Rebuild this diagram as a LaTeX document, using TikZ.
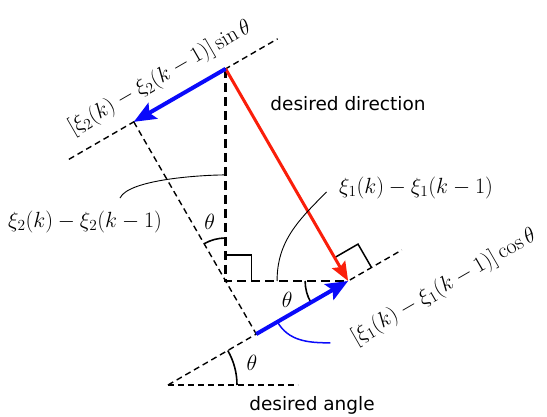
\RequirePackage{fix-cm}
\documentclass[tikz,border=0pt]{standalone}
\usepackage{fontspec}
\setsansfont{DejaVu Sans}
\usepackage{amsmath}
\usetikzlibrary{calc,arrows.meta,positioning}
\definecolor{projblue}{RGB}{10,10,250}
\definecolor{dirred}{RGB}{250,30,10}

\tikzset{
  thindash/.style={line width=1.4pt, dash pattern=on 6pt off 4pt},
  thickdash/.style={line width=2.8pt, dash pattern=on 9pt off 5pt},
  projvec/.style={projblue, line width=4pt, -{Stealth[length=22pt,width=18pt,inset=4pt]}},
  dirvec/.style={dirred, line width=3pt, -{Stealth[length=19pt,width=15pt,inset=3pt]}},
  rightmark/.style={line width=1.5pt},
  anglearc/.style={line width=1.6pt},
  leader/.style={line width=0.9pt},
  mathlbl/.style={font=\fontsize{22}{26}\selectfont},
  textlbl/.style={font=\sffamily\fontsize{18.5}{22}\selectfont},
}

\begin{document}
\begin{tikzpicture}[x=1pt,y=1pt]
\def\th{30}
\useasboundingbox (-168,-31) rectangle (379,385);
% axis origin, target point and start point
\coordinate (O) at (0,0);
\coordinate (R) at (\th:208);
\coordinate (T) at ($(R)+(\th+90:245)$);
\coordinate (C) at (T |- R);
% projections of the corner onto both axis lines
\coordinate (Tu) at ($(T)+(\th:10)$);
\coordinate (Q) at ($(T)!(C)!(Tu)$);
\coordinate (P) at ($(O)!(C)!(R)$);
% ends of the dashed guide lines
\coordinate (Oh) at (130,0);
\coordinate (Oe) at (\th:270);
\coordinate (Ul) at ($(T)+(\th+180:181)$);
\coordinate (Ur) at ($(T)+(\th:60)$);

% guide lines
\draw[thindash] (O) -- (Oh);
\draw[thindash] (O) -- (Oe);
\draw[thindash] (Ul) -- (Ur);
\draw[thindash] (Q) -- (P);
\draw[thickdash] (T) -- (C) -- (R);

% right angles
\draw[rightmark] ($(C)+(0,26)$) -- ++(26,0) -- ++(0,-26);
\draw[rightmark] ($(R)+(\th+90:27)$) -- ++(\th:27) -- ++(\th-90:27);

% angles
\draw[anglearc] (69,0) arc[start angle=0, end angle=\th, radius=69];
\draw[anglearc] ($(C)+(90:43)$) arc[start angle=90, end angle=90+\th, radius=43];
\draw[anglearc] ($(R)+(180:43)$) arc[start angle=180, end angle=180+\th, radius=43];
\node[mathlbl] (th0) at (84,22) {$\theta$};
\node[mathlbl] (thC) at ($(C)+(-16,59)$) {$\theta$};
\node[mathlbl] (thR) at ($(R)+(-61,-19)$) {$\theta$};

% vectors
\draw[dirvec] (T) -- (R);
\draw[projvec] (T) -- (Q);
\draw[projvec] (P) -- (R);

% labels
\node[textlbl] (dirlbl) at (180,281) {desired direction};
\node[textlbl] (anglbl) at (144,-20) {desired angle};
\node[mathlbl, rotate=\th] (sinlbl) at (-8,307) {$[\xi_2(k)-\xi_2(k-1)]\sin\theta$};
\node[mathlbl, rotate=\th] (coslbl) at (276,98) {$[\xi_1(k)-\xi_1(k-1)]\cos\theta$};
\node[mathlbl] (dx2) at (-83,163) {$\xi_2(k)-\xi_2(k-1)$};
\node[mathlbl] (dx1) at (248,197) {$\xi_1(k)-\xi_1(k-1)$};

% leaders
\coordinate (mTC) at ($(C)!0.5!(T)$);
\coordinate (mCR) at ($(C)!0.42!(R)$);
\coordinate (mPR) at ($(P)!0.23!(R)$);
\coordinate (bEnd) at ($(mPR)+(53,-21)$);
\draw[leader] (-48,187) to[out=65, in=180, looseness=0.5] (mTC);
\draw[leader] ($(dx1.west)+(-9,-4)$) to[out=225, in=90] (mCR);
\draw[leader, projblue, line width=1.5pt] (mPR) to[out=-60, in=180] (bEnd);
\end{tikzpicture}
\end{document}
